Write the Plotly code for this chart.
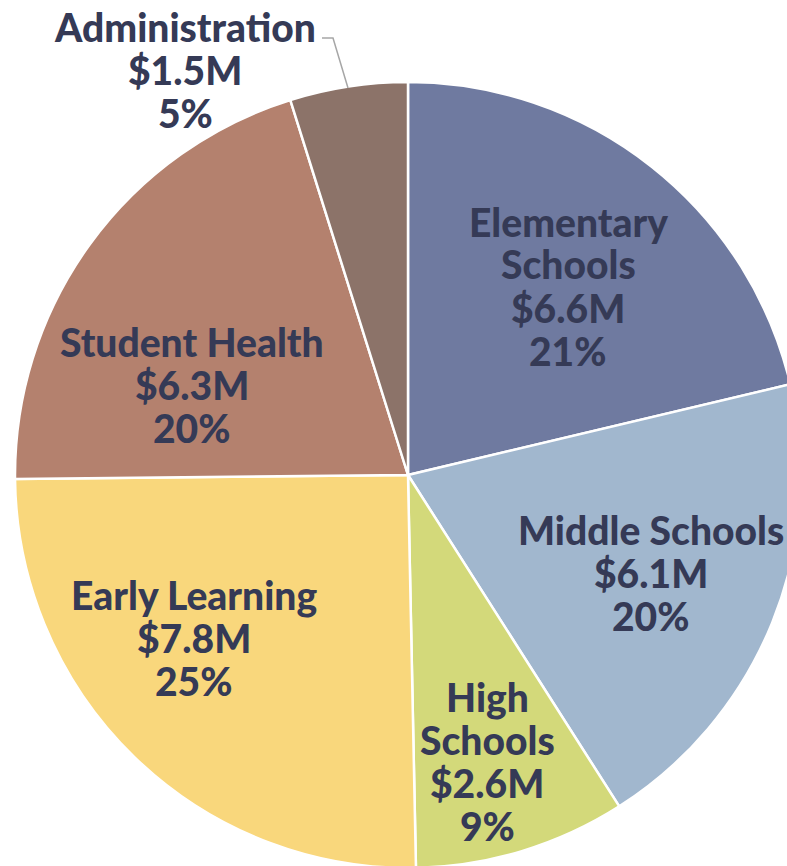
import plotly.graph_objects as go

# ---- data ----
categories = ["Elementary Schools", "Middle Schools", "High Schools",
              "Early Learning", "Student Health", "Administration"]
label_lines = [["Elementary", "Schools"], ["Middle Schools"], ["High", "Schools"],
               ["Early Learning"], ["Student Health"], ["Administration"]]
values = [6.6, 6.1, 2.7, 7.8, 6.3, 1.5]
amount_text = ["$6.6M", "$6.1M", "$2.6M", "$7.8M", "$6.3M", "$1.5M"]
percent_text = ["21%", "20%", "9%", "25%", "20%", "5%"]
colors = ["#6f7aa0", "#a1b7ce", "#d3d97a", "#f9d77c", "#b4816e", "#8c7369"]

TEXT_COLOR = "#353a56"
FONT = "Lato, 'Open Sans', sans-serif"
FONT_SIZE = 39
LINE_GAP = 43

# figure geometry (pixels); body margin removed by post_script
W, H = 816, 950
cx, cy, R = 408, 475, 393

def px(x):
    return x / W

def py(y):
    return 1 - y / H

fig = go.Figure(go.Pie(
    labels=categories,
    values=values,
    sort=False,
    direction="clockwise",
    rotation=0,
    textinfo="none",
    marker=dict(colors=colors, line=dict(color="white", width=2.5)),
    domain=dict(x=[0, 1], y=[1 - (cy + R) / H, 1 - (cy - R) / H]),
    showlegend=False,
    hoverinfo="label+value",
))

# label block centres (pixels in the page)
label_pos = [(568, 286), (651, 573), (487, 761), (194, 638), (192, 385), (185, 70)]

for lines, amt, pct, (lx, ly) in zip(label_lines, amount_text, percent_text, label_pos):
    all_lines = lines + [amt, pct]
    n = len(all_lines)
    for i, t in enumerate(all_lines):
        yy = ly + (i - (n - 1) / 2) * LINE_GAP
        fig.add_annotation(
            x=px(lx), y=py(yy), xref="paper", yref="paper",
            text=t, showarrow=False,
            font=dict(family=FONT, size=FONT_SIZE, color=TEXT_COLOR, weight=900),
            align="center", xanchor="center", yanchor="middle",
        )

# leader line for Administration
fig.add_shape(
    type="path", xref="paper", yref="paper",
    path=f"M {px(322)} {py(38)} L {px(333)} {py(38)} L {px(348)} {py(88)}",
    line=dict(color="#a6a6a6", width=1.5),
)

fig.update_layout(
    width=W, height=H,
    margin=dict(l=0, r=0, t=0, b=0),
    paper_bgcolor="white",
    plot_bgcolor="white",
)

fig.write_html(
    "out.html",
    config={"displayModeBar": False},
    post_script=("document.body.style.margin='0';"
                 "document.body.style.overflow='hidden';"
                 "document.documentElement.style.overflow='hidden';"),
)
